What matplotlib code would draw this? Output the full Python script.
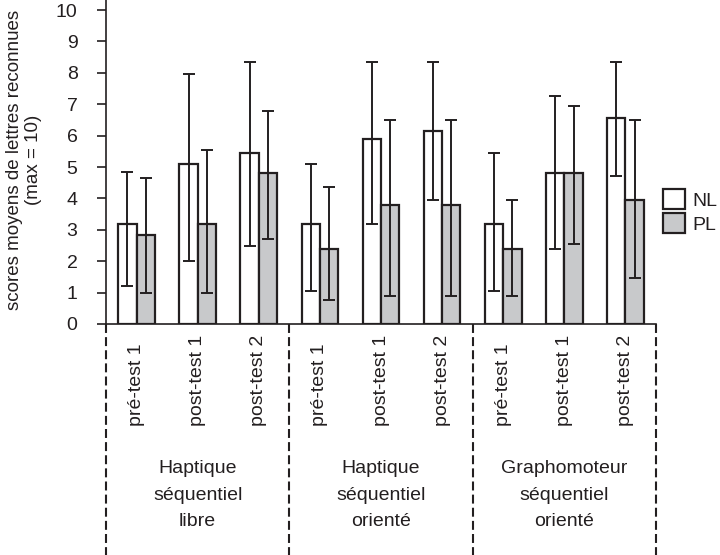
import numpy as np
import matplotlib
matplotlib.use('Agg')
import matplotlib.pyplot as plt

plt.rcParams['font.family'] = ['Liberation Sans', 'DejaVu Sans']

# Data (means and error bar ends)
tests = ['pré-test 1', 'post-test 1', 'post-test 2'] * 3
conditions = ['Haptique\nséquentiel\nlibre',
              'Haptique\nséquentiel\norienté',
              'Graphomoteur\nséquentiel\norienté']
nl_mean = [3.2, 5.1, 5.45, 3.2, 5.9, 6.15, 3.2, 4.8, 6.55]
nl_low = [1.2, 2.0, 2.5, 1.05, 3.2, 3.95, 1.05, 2.4, 4.7]
nl_high = [4.85, 7.95, 8.35, 5.1, 8.35, 8.35, 5.45, 7.25, 8.35]
pl_mean = [2.85, 3.2, 4.8, 2.4, 3.8, 3.8, 2.4, 4.8, 3.95]
pl_low = [1.0, 1.0, 2.7, 0.75, 0.9, 0.9, 0.9, 2.55, 1.45]
pl_high = [4.65, 5.55, 6.8, 4.35, 6.5, 6.5, 3.95, 6.95, 6.5]

ink = '#231f20'
grey = '#c8c9cb'
fs = 14

fig = plt.figure(figsize=(7.2, 5.55), dpi=100)
ax = fig.add_axes([106 / 720, 231 / 555, 550 / 720, 324 / 555])

x = np.arange(len(tests))
w = 0.30
nl_mean = np.array(nl_mean)
pl_mean = np.array(pl_mean)
nl_err = [nl_mean - np.array(nl_low), np.array(nl_high) - nl_mean]
pl_err = [pl_mean - np.array(pl_low), np.array(pl_high) - pl_mean]

ax.bar(x - w / 2, nl_mean, w, color='white', edgecolor=ink, linewidth=1.6,
       label='NL', zorder=2)
ax.bar(x + w / 2, pl_mean, w, color=grey, edgecolor=ink, linewidth=1.6,
       label='PL', zorder=2)
ax.errorbar(x - w / 2, nl_mean, yerr=nl_err, fmt='none', ecolor=ink,
            elinewidth=1.4, capsize=4.3, capthick=1.4, zorder=3)
ax.errorbar(x + w / 2, pl_mean, yerr=pl_err, fmt='none', ecolor=ink,
            elinewidth=1.4, capsize=4.3, capthick=1.4, zorder=3)

ax.set_xlim(-0.5, 8.5)
ax.set_ylim(0, 10.32)
ax.set_yticks(range(0, 11))
ax.set_xticks([])
for s in ['top', 'right']:
    ax.spines[s].set_visible(False)
for s in ['left', 'bottom']:
    ax.spines[s].set_color(ink)
    ax.spines[s].set_linewidth(1.2)
ax.tick_params(axis='y', direction='out', length=6.5, width=1.2, colors=ink,
               labelsize=fs, pad=14)

# rotated test labels under each pair of bars
for xi, t in zip(x, tests):
    ax.text(xi, -3.25, t, rotation=90, ha='center', va='bottom',
            fontsize=fs, color=ink, clip_on=False)

# dashed separators and condition names
for d in [-0.5, 2.5, 5.5, 8.5]:
    ax.plot([d, d], [0, -8], color=ink, lw=1.5, dashes=(4.3, 2.0),
            clip_on=False)
for k, c in enumerate(conditions):
    ax.text(3 * k + 1, -5.45, c, ha='center', va='center', fontsize=fs,
            color=ink, linespacing=1.75, clip_on=False)

fig.text(24 / 720, 1 - 160 / 555,
         'scores moyens de lettres reconnues\n(max = 10)',
         rotation=90, ha='center', va='center', multialignment='center',
         fontsize=13.5, color=ink)

leg = ax.legend(loc='upper left', bbox_to_anchor=(663 / 720, 1 - 189 / 555),
                bbox_transform=fig.transFigure, frameon=False, fontsize=fs,
                borderpad=0, borderaxespad=0, handlelength=1.15,
                handleheight=1.2, handletextpad=0.35, labelspacing=0.2)
for t in leg.get_texts():
    t.set_color(ink)

fig.savefig('out.png', dpi=100)
